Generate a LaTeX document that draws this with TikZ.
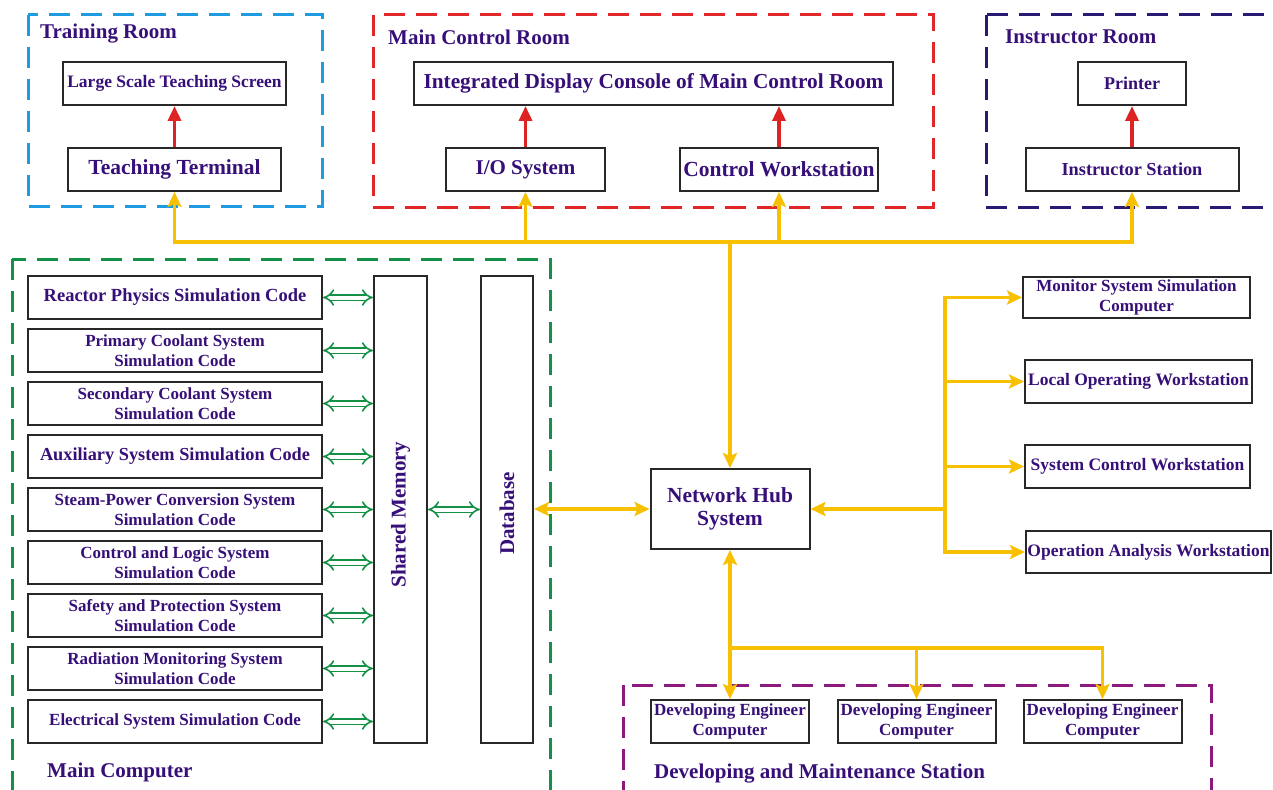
\documentclass[tikz,border=0pt]{standalone}
\usepackage{fontspec}
\setmainfont{Liberation Serif}
\usetikzlibrary{arrows.meta}
\definecolor{txt}{RGB}{55,15,120}
\definecolor{yel}{RGB}{247,192,0}
\definecolor{redA}{RGB}{222,35,35}
\definecolor{blueD}{RGB}{30,155,225}
\definecolor{redD}{RGB}{225,40,40}
\definecolor{navyD}{RGB}{40,25,115}
\definecolor{greenD}{RGB}{20,145,70}
\definecolor{purpD}{RGB}{140,25,125}
\definecolor{boxline}{RGB}{40,40,40}
\tikzset{
  box/.style={draw=boxline, line width=2pt, fill=white, inner sep=0pt, text=txt,
    align=center},
  fs/.style={font=\bfseries\fontsize{#1}{19.5}\selectfont},
  roomlabel/.style={anchor=base west, inner sep=0pt, text=txt, fs=21},
  room/.style={line width=3pt, dash pattern=on 21pt off 11pt},
  rarr/.style={draw=redA, line width=3.5pt, -{Triangle[length=15pt,width=13pt]}},
  yl/.style={draw=yel, line width=3.5pt},
  yarr/.style={yl, -{Stealth[length=15pt,width=14pt,inset=3pt]}},
  ybi/.style={yl, {Stealth[length=15pt,width=14pt,inset=3pt]}-{Stealth[length=15pt,width=14pt,inset=3pt]}},
  garr/.style={draw=greenD, line width=1.6pt, double=white, double distance=4pt,
    {Implies[]}-{Implies[]}},
}
\begin{document}
\begin{tikzpicture}[x=1pt,y=-1pt]
\useasboundingbox (0,0) rectangle (1273,789);
\fill[white] (0,0) rectangle (1273,789);

% room frames
\draw[room, blueD] (28,15) rectangle (322,206);
\draw[room, redD] (373,15) rectangle (933,207);
\draw[room, navyD] (986,15) rectangle (1285,207);
\draw[room, greenD] (12,259) rectangle (550,800);
\draw[room, purpD] (623,685) rectangle (1211,800);

\node[roomlabel] (lTR) at (40,39) {Training Room};
\node[roomlabel] (lMCR) at (388,45) {Main Control Room};
\node[roomlabel] (lIR) at (1005,44) {Instructor Room};
\node[roomlabel] (lMC) at (47,777) {Main Computer};
\node[roomlabel] (lDM) at (654,778) {Developing and Maintenance Station};

% top rooms
\node[box, fs=17.5, minimum width=223pt, minimum height=43pt] (lsts) at (174.5,83.5) {Large Scale Teaching Screen};
\node[box, fs=21.5, minimum width=213pt, minimum height=43pt] (tt) at (174.5,169.5) {Teaching Terminal};
\node[box, fs=21.3, minimum width=479pt, minimum height=43pt] (idc) at (653.5,83.5) {Integrated Display Console of Main Control Room};
\node[box, fs=21, minimum width=159pt, minimum height=43pt] (io) at (525.5,169.5) {I/O System};
\node[box, fs=21.5, minimum width=198pt, minimum height=43pt] (cw) at (779,169.5) {Control Workstation};
\node[box, fs=18, minimum width=108pt, minimum height=43pt] (pr) at (1132,83.5) {Printer};
\node[box, fs=18.3, minimum width=213pt, minimum height=43pt] (is) at (1132,169.5) {Instructor Station};

\draw[rarr] (tt.north) -- (lsts.south);
\draw[rarr] (io.north) -- (io.north |- idc.south);
\draw[rarr] (cw.north) -- (cw.north |- idc.south);
\draw[rarr] (is.north) -- (pr.south);

% hub
\node[box, fs=21.5, minimum width=159pt, minimum height=80pt] (hub) at (730,509) {Network Hub\\[4pt]System};

% right boxes
\node[box, fs=17, minimum width=227pt, minimum height=41pt] (msc) at (1136.5,297.5) {Monitor System Simulation\\Computer};
\node[box, fs=17.5, minimum width=227pt, minimum height=43pt] (low) at (1138.5,381.5) {Local Operating Workstation};
\node[box, fs=17.5, minimum width=225pt, minimum height=43pt] (scw) at (1137.5,466.5) {System Control Workstation};
\node[box, fs=17.5, minimum width=245pt, minimum height=42pt] (oaw) at (1148.5,552) {Operation Analysis Workstation};

% developer boxes
\tikzset{devbox/.style={box, fs=17, minimum width=158pt, minimum height=43pt}}
\node[devbox] (dev1) at (730,721.5) {Developing Engineer\\Computer};
\node[devbox] (dev2) at (916.5,721.5) {Developing Engineer\\Computer};
\node[devbox] (dev3) at (1102.5,721.5) {Developing Engineer\\Computer};

% main computer
\node[box, minimum width=53pt, minimum height=467pt] (sm) at (400.5,509.5) {};
\node[text=txt, fs=21, rotate=90] (smt) at ([yshift=-5pt]sm.center) {Shared Memory};
\node[box, minimum width=52pt, minimum height=467pt] (db) at (507,509.5) {};
\node[text=txt, fs=21, rotate=90] (dbt) at ([yshift=-4pt]db.center) {Database};

\tikzset{code/.style={box, minimum width=294pt, minimum height=43pt},
         code2/.style={code, fs=17}}
\node[code, fs=18.5] (c1) at (175,297.5) {Reactor Physics Simulation Code};
\node[code2] (c2) at (175,350.5) {Primary Coolant System\\Simulation Code};
\node[code2] (c3) at (175,403.5) {Secondary Coolant System\\Simulation Code};
\node[code, fs=18.3] (c4) at (175,456.5) {Auxiliary System Simulation Code};
\node[code2] (c5) at (175,509.5) {Steam-Power Conversion System\\Simulation Code};
\node[code2] (c6) at (175,562.5) {Control and Logic System\\Simulation Code};
\node[code2] (c7) at (175,615.5) {Safety and Protection System\\Simulation Code};
\node[code2] (c8) at (175,668.5) {Radiation Monitoring System\\Simulation Code};
\node[code, fs=17] (c9) at (175,721.5) {Electrical System Simulation Code};

\foreach \c in {c1,c2,c3,c4,c5,c6,c7,c8,c9}
  \draw[garr] (\c.east) -- (sm.west |- \c.east);
\draw[garr] (sm.east |- c5.east) -- (db.west |- c5.east);

% yellow network
\coordinate (busL) at (tt.south |- 0,242);
\coordinate (busR) at (is.south |- 0,242);
\draw[ybi] (tt.south) -- (busL) -- (busR) -- (is.south);
\draw[yarr] (io.south |- busL) -- (io.south);
\draw[yarr] (cw.south |- busL) -- (cw.south);
\draw[yarr] (hub.north |- busL) -- (hub.north);

\draw[ybi] (db.east |- hub.west) -- (hub.west);

\coordinate (sp) at (945,509);
\draw[yarr] (sp) -- (hub.east);
\draw[ybi] (msc.west) -- (sp |- msc.west) -- (sp |- oaw.west) -- (oaw.west);
\draw[yarr] (sp |- low.west) -- (low.west);
\draw[yarr] (sp |- scw.west) -- (scw.west);

\coordinate (bj) at (hub.south |- 0,648);
\draw[ybi] (hub.south) -- (dev1.north);
\draw[yarr] (bj) -- (bj -| dev3.north) -- (dev3.north);
\draw[yarr] (bj -| dev2.north) -- (dev2.north);
\end{tikzpicture}
\end{document}
